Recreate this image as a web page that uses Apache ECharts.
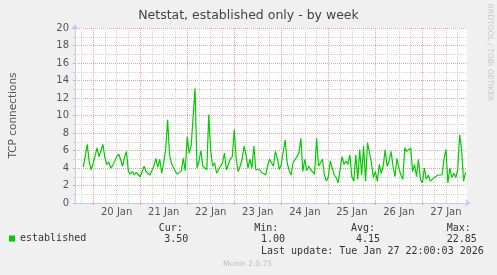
<!DOCTYPE html>
<html>
<head>
<meta charset="utf-8">
<script src="https://cdn.jsdelivr.net/npm/echarts@6/dist/echarts.min.js"></script>
<style>
html,body{margin:0;padding:0;background:#F0F0F0;}
#chart{width:497px;height:275px;}
</style>
</head>
<body>
<div id="chart"></div>
<script>
// ---- data (hours counted from 19 Jan 00:00) ----
var seriesName = 'established';
var startHour = 19;        // first sample: 19 Jan 19:00
var stepHours = 1;         // one sample per hour
var established = [
  4.1,4.2,6.7,4.7,3.8,4.5,4.4,6.3,5.3,6.0,6.7,5.2,4.4,4.7,4.0,4.3,4.1,5.3,5.6,5.0,
  4.2,5.2,5.9,3.6,3.3,3.6,3.2,3.5,3.3,3.0,3.2,4.2,3.6,3.5,3.2,3.3,4.2,5.1,4.1,5.0,
  3.4,4.6,6.1,9.5,5.5,4.5,
  4.6,3.6,3.3,3.3,3.7,5.1,3.7,7.6,5.7,6.5,6.3,13.1,4.0,4.8,6.0,4.2,4.4,3.8,10.1,5.9,
  4.2,4.6,3.4,3.8,4.2,4.6,5.7,3.8,4.4,5.0,5.3,8.4,5.0,3.6,4.2,5.0,6.5,5.5,4.0,5.0,
  4.0,6.5,3.8,3.6,3.8,3.5,3.5,3.2,4.2,5.0,
  5.0,4.2,5.9,5.1,3.8,4.4,5.9,7.2,4.6,3.7,3.2,4.6,4.4,5.3,5.7,7.4,3.6,5.0,3.7,4.2,
  3.8,3.6,3.3,7.4,4.2,4.6,5.0,3.2,2.5,3.0,4.8,4.6,3.2,2.9,2.3,3.8,5.3,4.4,4.8,4.4,
  5.5,3.0,2.5,5.5,2.7,6.1,3.2,6.5,2.5,6.9,
  7.0,4.6,2.9,3.6,2.5,4.4,3.4,4.2,6.1,4.2,4.8,5.9,4.2,3.0,5.1,4.0,3.2,2.7,6.3,5.9,
  6.1,6.3,3.6,4.4,3.0,5.0,2.7,2.3,4.0,2.7,3.2,2.5,2.3,2.9,2.7,3.2,3.4,3.2,5.0,6.1,
  2.3,4.0,2.9,3.4,2.9,3.8,7.8,6.1,2.5,3.5
];
var dayLabels = ['20 Jan','21 Jan','22 Jan','23 Jan','24 Jan','25 Jan','26 Jan','27 Jan'];
var dayStartHours = [24,48,72,96,120,144,168,192];
var xMinHour = 14.75, xMaxHour = 214.75;
var yTicks = [0,2,4,6,8,10,12,14,16,18,20];
var statHeaders = ['Cur:','Min:','Avg:','Max:'];
var statValues = ['3.50','1.00','4.15','22.85'];
var lastUpdate = 'Last update: Tue Jan 27 22:00:03 2026';

// ---- derived helpers ----
var seriesData = established.map(function(v,i){ return [startHour + i*stepHours, v]; });
var noonHours = dayStartHours.map(function(h){ return h + 12; });
var quarterHours = [];
for (var h = Math.ceil(xMinHour/6)*6; h <= xMaxHour; h += 6) {
  if (h % 24 !== 0) quarterHours.push(h);
}

var FONT = 'DejaVu Sans';
var MONO = 'DejaVu Sans Mono';
var AXIS_COLOR = '#C8C8F0';
var MINOR = '#D2D2D2';
var MAJOR = '#E9A2A2';
var TXT = '#555';

var chart = echarts.init(document.getElementById('chart'), null, {renderer:'canvas'});

var statX = [[158.7,164.3],[254.3,261],[351,356],[446.7,446.7]];
var graphics = [];
statHeaders.forEach(function(t,i){
  graphics.push({type:'text', x:statX[i][0], y:228.5,
    style:{text:t, font:'10px "'+MONO+'"', fill:'#333', verticalAlign:'middle'}});
  graphics.push({type:'text', x:statX[i][1], y:239.5,
    style:{text:statValues[i], font:'10px "'+MONO+'"', fill:'#333', verticalAlign:'middle'}});
});
graphics.push({type:'text', x:261, y:251,
  style:{text:lastUpdate, font:'10px "'+MONO+'"', fill:'#333', verticalAlign:'middle'}});
graphics.push({type:'text', x:247.5, y:264.5,
  style:{text:'Munin 2.0.75', font:'7.5px "'+FONT+'"', fill:'#BDBDBD', align:'center', verticalAlign:'middle'}});
graphics.push({type:'text', x:490, y:52.5, rotation:-Math.PI/2,
  style:{text:'RRDTOOL / TOBI OETIKER', font:'7.6px "'+FONT+'"', fill:'#C8C8C8', align:'center', verticalAlign:'middle'}});

chart.setOption({
  animation:false,
  backgroundColor:'#F0F0F0',
  textStyle:{fontFamily:FONT},
  title:{
    text:'Netstat, established only - by week',
    left:'center', top:4,
    textStyle:{fontFamily:FONT, fontSize:12.5, fontWeight:'normal', color:'#444'}
  },
  legend:{
    data:[seriesName], left:9, top:233.5, padding:0,
    icon:'rect', itemWidth:6, itemHeight:6, itemGap:5,
    textStyle:{fontFamily:MONO, fontSize:10, color:'#333'},
    selectedMode:false
  },
  grid:{left:67, top:28, width:400, height:175, show:true, backgroundColor:'#fff', borderWidth:0, containLabel:false},
  xAxis:[
    {
      type:'value', min:xMinHour, max:xMaxHour,
      axisLine:{show:true, lineStyle:{color:AXIS_COLOR, width:1}, symbol:['none','arrow'], symbolSize:[6,6], symbolOffset:[0,4]},
      axisTick:{show:false, customValues:quarterHours},
      axisLabel:{show:false},
      splitLine:{show:true, lineStyle:{color:MINOR, width:1, type:[1,1]}}
    },
    {
      type:'value', min:xMinHour, max:xMaxHour, position:'bottom',
      axisLine:{show:false},
      axisTick:{show:true, customValues:dayStartHours, length:2, inside:false, lineStyle:{color:MAJOR}},
      axisLabel:{show:true, customValues:noonHours, margin:4, color:TXT, fontFamily:FONT, fontSize:10,
        formatter:function(v){ var i = noonHours.indexOf(Math.round(v)); return i>=0 ? dayLabels[i] : ''; }},
      splitLine:{show:true, lineStyle:{color:MAJOR, width:1, type:[1,1]}}
    }
  ],
  yAxis:[
    {
      type:'value', min:0, max:20, interval:1,
      axisLine:{show:true, lineStyle:{color:AXIS_COLOR, width:1}, symbol:['none','arrow'], symbolSize:[6,6], symbolOffset:[0,4]},
      axisTick:{show:true, length:2, lineStyle:{color:MINOR}},
      axisLabel:{show:false},
      splitLine:{show:true, lineStyle:{color:MINOR, width:1, type:[1,1]}}
    },
    {
      type:'value', min:0, max:20, interval:2, position:'left',
      axisLine:{show:false},
      axisTick:{show:true, length:2, lineStyle:{color:MAJOR}},
      axisLabel:{show:true, margin:6, color:TXT, fontFamily:FONT, fontSize:10,
        formatter:function(v){ return yTicks.indexOf(v)>=0 ? String(v) : ''; }},
      splitLine:{show:true, lineStyle:{color:MAJOR, width:1, type:[1,1]}},
      name:'TCP connections', nameLocation:'middle', nameGap:56, nameRotate:90,
      nameTextStyle:{fontFamily:FONT, fontSize:10.5, color:TXT}
    }
  ],
  series:[{
    name:seriesName, type:'line', xAxisIndex:0, yAxisIndex:0,
    data:seriesData, showSymbol:false, symbol:'none',
    color:'#00CC00',
    lineStyle:{color:'#00CC00', width:1.2},
    z:10
  }],
  graphic:graphics
});
</script>
</body>
</html>
